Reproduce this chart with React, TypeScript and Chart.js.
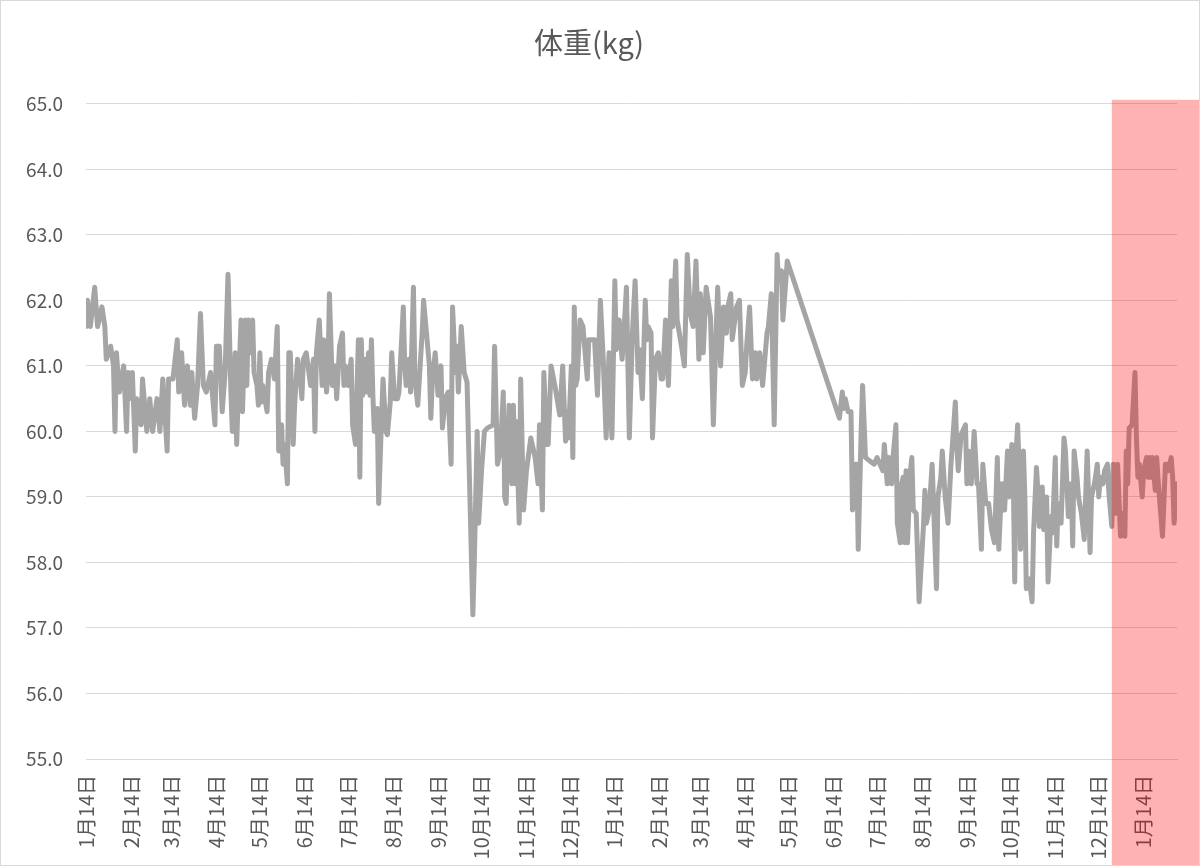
import React, { useEffect, useRef } from "react";
import { Chart, registerables } from "chart.js";

Chart.register(...registerables);

const chartTitle = "体重(kg)";

// day offsets (from the first 1月14日) of the axis ticks, and their labels
const tickDays = [0, 31, 59, 90, 120, 151, 181, 212, 243, 273, 304, 334, 365, 396, 424, 455, 485, 516, 546, 577, 608, 638, 669, 699, 730];
const tickLabels = [
  "1月14日", "2月14日", "3月14日", "4月14日", "5月14日", "6月14日", "7月14日", "8月14日",
  "9月14日", "10月14日", "11月14日", "12月14日", "1月14日", "2月14日", "3月14日", "4月14日",
  "5月14日", "6月14日", "7月14日", "8月14日", "9月14日", "10月14日", "11月14日", "12月14日", "1月14日",
];

const xMinDay = 0;
const xMaxDay = 753;
const yMin = 55;
const yMax = 65;
const highlightFromDay = 708;

// [day offset, weight kg]
const weightLog: [number, number][] = [
  [0, 61.6], [1, 62.0], [3, 61.6], [6, 62.2], [8, 61.6], [11, 61.9], [13, 61.6], [14, 61.1], [17, 61.3], [19, 61.0],
  [20, 60.0], [21, 61.2], [23, 60.6], [26, 61.0], [28, 60.0], [29, 60.9], [30, 60.5], [32, 60.9], [34, 59.7], [35, 60.5],
  [38, 60.1], [39, 60.8], [42, 60.0], [44, 60.5], [46, 60.0], [49, 60.5], [51, 60.0], [53, 60.8], [56, 59.7], [57, 60.8],
  [60, 60.8], [63, 61.4], [64, 60.6], [66, 61.2], [68, 60.4], [70, 61.0], [72, 60.4], [73, 60.9], [75, 60.2], [77, 60.7],
  [79, 61.8], [81, 60.7], [83, 60.6], [86, 60.9], [89, 60.1], [90, 61.3],
  [92, 61.3], [94, 60.3], [96, 60.9], [98, 62.4], [100, 60.6], [101, 60.0], [103, 61.2], [104, 59.8], [105, 60.5], [107, 61.7],
  [108, 60.3], [110, 61.7], [111, 60.7], [112, 61.7], [114, 61.2], [115, 61.7], [116, 60.9], [118, 60.7], [119, 60.4], [120, 61.2],
  [121, 60.45], [122, 60.7], [125, 60.3], [126, 60.9], [128, 61.1], [130, 60.8], [132, 61.6], [133, 59.7], [135, 60.1], [136, 59.5],
  [137, 59.8], [139, 59.2], [140, 61.2], [141, 61.2], [143, 59.8], [144, 60.4], [146, 61.1], [148, 60.8], [149, 60.5], [150, 61.1],
  [152, 61.2], [155, 60.7], [157, 61.1], [158, 60.0], [159, 61.2], [161, 61.7], [163, 60.7], [164, 61.4], [166, 60.6], [167, 60.9],
  [168, 62.1], [170, 60.7], [172, 61.0], [173, 60.5], [175, 61.3], [177, 61.5], [178, 60.7], [179, 61.0], [181, 60.7], [183, 61.1],
  [184, 60.1], [186, 59.8], [188, 61.4], [189, 59.3],
  [190, 61.4], [191, 60.55], [193, 61.1], [194, 60.6], [195, 61.2], [196, 60.55], [197, 61.4], [198, 60.55], [199, 60.0], [201, 60.35],
  [202, 58.9], [204, 60.2], [205, 60.8], [207, 60.0], [208, 59.95], [210, 60.45], [211, 61.2], [213, 60.5], [215, 60.5], [216, 60.6],
  [219, 61.9], [220, 61.0], [221, 60.7], [223, 61.1], [224, 60.6], [226, 62.2], [227, 60.8], [229, 60.4], [232, 61.5], [233, 62.0],
  [235, 61.5], [237, 61.0], [238, 60.2], [239, 60.75], [241, 61.2], [243, 60.55], [245, 61.0], [246, 60.05], [248, 60.5], [250, 60.6],
  [252, 59.5], [253, 61.9], [255, 60.9], [256, 61.3], [257, 60.6], [259, 61.6], [261, 60.9], [263, 60.75], [267, 57.2], [268, 58.0],
  [270, 60.0], [271, 58.6], [273, 59.4], [275, 60.0], [277, 60.05], [281, 60.1], [282, 61.3], [284, 59.5],
  [286, 59.7], [288, 60.6], [289, 59.0], [290, 58.9], [292, 60.4], [294, 59.2], [295, 60.4], [296, 59.2], [297, 60.15], [299, 58.6],
  [300, 60.8], [302, 58.8], [304, 59.4], [307, 59.9], [310, 59.6], [312, 59.2], [313, 60.1], [315, 58.8], [316, 60.9], [318, 59.8],
  [319, 59.8], [321, 61.0], [324, 60.65], [327, 60.25], [329, 61.0], [331, 59.85], [332, 60.3], [333, 59.9], [335, 61.0], [336, 59.6],
  [337, 61.9], [338, 60.7], [339, 60.8], [341, 61.7], [343, 61.6], [346, 60.8], [347, 61.4], [351, 61.4], [353, 60.55], [355, 62.0],
  [357, 61.1], [359, 59.9], [361, 61.2], [363, 59.9], [365, 62.3], [366, 61.25], [368, 61.7], [370, 61.1], [371, 61.4], [373, 62.2],
  [375, 59.9], [377, 61.45], [379, 62.3], [381, 60.9],
  [382, 61.25], [384, 60.5], [386, 62.0], [387, 61.4], [388, 61.6], [390, 61.5], [391, 59.9], [393, 61.1], [395, 61.2], [397, 60.8],
  [398, 60.8], [400, 61.7], [402, 60.7], [404, 62.3], [405, 61.6], [407, 62.6], [408, 61.7], [411, 61.3], [413, 61.0], [415, 62.7],
  [417, 61.8], [419, 61.6], [421, 62.6], [423, 61.1], [424, 62.1], [426, 61.2], [428, 62.2], [431, 61.75], [433, 60.1], [435, 61.6],
  [436, 62.2], [438, 61.0], [440, 61.9], [442, 61.5], [443, 61.9], [445, 62.1], [446, 61.4], [449, 61.9], [451, 62.0], [453, 60.7],
  [455, 60.9], [456, 61.3], [458, 61.9], [460, 60.8], [462, 61.2], [463, 60.8], [465, 61.2], [467, 60.7], [470, 61.5], [471, 61.6],
  [473, 62.1], [475, 60.1], [477, 62.7], [478, 62.3], [480, 62.45], [481, 61.7], [484, 62.6],
  [520, 60.2], [522, 60.6], [523, 60.35], [524, 60.5], [526, 60.3], [528, 60.3], [529, 58.8], [531, 59.5], [532, 59.5], [533, 58.2],
  [535, 60.0], [536, 60.7], [538, 59.6], [541, 59.55], [544, 59.5], [546, 59.6], [548, 59.5], [550, 59.4], [551, 59.8], [553, 59.2],
  [554, 59.6], [556, 59.2], [557, 59.6], [559, 60.1], [560, 58.6], [562, 58.3], [563, 59.2], [564, 59.3], [565, 58.3], [566, 59.4],
  [567, 58.3], [569, 59.4], [570, 59.6], [571, 58.8], [573, 58.75], [575, 57.4], [578, 58.55], [579, 59.1], [580, 58.6], [582, 58.8],
  [584, 59.5], [587, 57.6], [588, 59.0], [590, 59.3], [591, 59.7], [593, 59.0], [595, 58.6], [597, 59.5], [598, 59.8], [600, 60.45],
  [601, 59.8], [602, 59.4], [604, 59.95], [607, 60.1], [608, 59.2], [609, 59.7], [611, 59.2], [613, 60.0], [615, 59.2], [616, 59.2],
  [618, 58.2], [619, 59.5], [621, 58.9], [623, 58.9], [625, 58.5], [627, 58.3], [629, 59.6], [630, 58.2], [632, 59.2], [634, 58.8],
  [636, 59.7],
  [637, 59.0], [639, 59.8], [640, 59.3], [641, 57.7], [642, 59.7], [643, 60.1], [644, 59.5], [645, 58.2], [647, 59.7], [648, 59.0],
  [649, 57.6], [651, 57.75], [653, 57.4], [654, 58.45], [656, 59.45], [657, 59.1], [658, 58.55], [660, 59.15], [661, 58.5], [663, 59.0],
  [664, 57.7], [666, 58.7], [667, 58.45], [668, 59.0], [669, 59.6], [670, 58.25], [671, 58.9], [673, 58.6], [675, 59.9], [676, 59.7],
  [678, 58.7], [680, 59.2], [681, 58.25], [682, 59.7], [684, 59.3], [685, 59.0], [687, 58.75], [689, 58.35], [691, 59.7], [692, 59.0],
  [693, 58.15], [694, 59.0], [696, 59.2], [698, 59.5], [699, 59.0], [700, 59.3], [702, 59.2], [703, 59.4], [705, 59.5], [706, 59.05],
  [708, 58.55], [709, 59.5],
  [711, 58.75], [712, 59.5], [714, 58.4], [716, 58.75], [717, 58.4], [718, 59.7], [719, 59.2], [720, 60.05], [722, 60.1], [724, 60.9],
  [725, 59.9], [726, 59.3], [727, 59.5], [729, 59.0], [730, 59.4], [732, 59.6], [733, 59.3], [734, 59.6], [735, 59.3], [736, 59.6],
  [738, 59.1], [739, 59.6], [740, 59.25], [743, 58.4], [745, 59.5], [746, 59.5], [747, 59.4], [749, 59.6], [750, 59.3], [751, 58.6],
  [753, 59.2],
];

const FONT = "'Noto Sans CJK JP', 'Noto Sans', sans-serif";
const TEXT = "#595959";
const GRID = "#D9D9D9";

const highlightPlugin = {
  id: "highlightBox",
  afterDraw(chart: any) {
    const { ctx } = chart;
    const x = chart.scales.x.getPixelForValue(highlightFromDay);
    const top = chart.scales.y.getPixelForValue(yMax) - 4;
    ctx.save();
    ctx.fillStyle = "rgba(255, 0, 0, 0.3)";
    ctx.fillRect(x, top, chart.width - x, chart.height - top);
    ctx.restore();
  },
};

export default function App() {
  const canvasRef = useRef<HTMLCanvasElement | null>(null);

  useEffect(() => {
    document.body.style.margin = "0";
    if (!canvasRef.current) return;
    const chart = new Chart(canvasRef.current, {
      type: "line",
      data: {
        datasets: [
          {
            label: chartTitle,
            data: weightLog.map(([d, w]) => ({ x: d, y: w })),
            borderColor: "#A5A5A5",
            borderWidth: 5,
            pointRadius: 0,
            pointHoverRadius: 0,
            tension: 0,
            fill: false,
            borderJoinStyle: "round",
            borderCapStyle: "round",
          },
        ],
      },
      options: {
        responsive: false,
        animation: false,
        events: [],
        layout: { padding: { left: 0, right: 22, top: 0, bottom: 0 } },
        plugins: {
          legend: { display: false },
          tooltip: { enabled: false },
          title: {
            display: true,
            text: chartTitle,
            color: TEXT,
            font: { family: FONT, size: 29, weight: "normal" },
            padding: { top: 25, bottom: 43 },
          },
        },
        scales: {
          x: {
            type: "linear",
            min: xMinDay,
            max: xMaxDay,
            afterBuildTicks: (s: any) => {
              s.ticks = tickDays.map((v) => ({ value: v }));
            },
            afterFit: (s: any) => {
              s.height = 106;
            },
            grid: { display: false, drawTicks: false },
            border: { display: true, color: GRID },
            ticks: {
              autoSkip: false,
              minRotation: 90,
              maxRotation: 90,
              padding: 16,
              color: TEXT,
              font: { family: FONT, size: 20 },
              callback: (_v: any, i: number) => tickLabels[i],
            },
          },
          y: {
            min: yMin,
            max: yMax,
            afterFit: (s: any) => {
              s.width = 85;
            },
            grid: { color: GRID, lineWidth: 1, drawTicks: false },
            border: { display: false },
            ticks: {
              stepSize: 1,
              padding: 23,
              color: TEXT,
              font: { family: FONT, size: 19 },
              callback: (v: any) => Number(v).toFixed(1),
            },
          },
        },
      },
      plugins: [highlightPlugin],
    } as any);
    return () => chart.destroy();
  }, []);

  return (
    <div
      style={{
        position: "absolute",
        left: 0,
        top: 0,
        width: 1200,
        height: 866,
        border: `1px solid ${GRID}`,
        boxSizing: "border-box",
        background: "#fff",
      }}
    >
      <canvas ref={canvasRef} width={1198} height={864} style={{ display: "block", width: 1198, height: 864 }} />
    </div>
  );
}
